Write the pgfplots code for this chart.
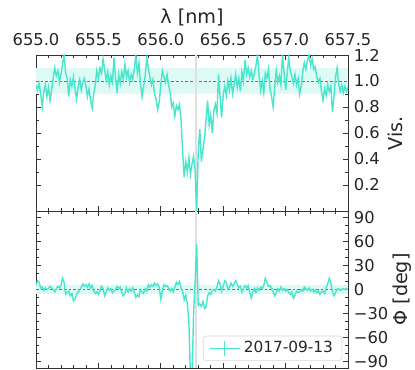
\documentclass[border=0pt]{standalone}
\usepackage{fontspec}
\setmainfont{DejaVu Sans}
\usepackage{pgfplots}
\pgfplotsset{compat=1.18}
\definecolor{turq}{RGB}{72,230,205}
\definecolor{band}{RGB}{222,250,244}
\pgfplotsset{
  common/.style={
    scale only axis, width=187.2pt,
    xmin=655, xmax=657.5,
    xtick={655,655.5,656,656.5,657,657.5},
    minor x tick num=4,
    tick align=inside, tick pos=both,
    major tick length=3pt, minor tick length=1.6pt,
    every tick/.style={black!80, line width=0.4pt},
    axis line style={black!80, line width=0.5pt},
    tick label style={font=\fontsize{9.8}{11}\selectfont, black!85},
    label style={font=\fontsize{11.5}{13}\selectfont, black!85},
    /pgf/number format/assume math mode=true,
    yticklabel pos=right,
    clip=true,
  }
}
\begin{document}
\begin{tikzpicture}
\path[use as bounding box] (0,0) rectangle (249pt,222pt);
% ---------------- top panel: visibility ----------------
\begin{axis}[common,
  at={(21.6pt,95.4pt)}, anchor=south west, height=93.6pt,
  ymin=0, ymax=1.2,
  ytick={0.2,0.4,0.6,0.8,1.0,1.2},
  minor y tick num=1,
  xticklabel pos=upper,
  xticklabel style={yshift=1.8pt, /pgf/number format/.cd, fixed, fixed zerofill, precision=1},
  yticklabel style={/pgf/number format/.cd, fixed, fixed zerofill, precision=1},
  xlabel={λ [nm]},
  xlabel style={yshift=-2pt},
  ylabel={Vis.},
  ylabel style={yshift=2pt},
]
\addplot[draw=none, fill=band, forget plot] coordinates {(655,0.9) (657.5,0.9) (657.5,1.1) (655,1.1)} -- cycle;
\addplot[black!55, dash pattern=on 1.6pt off 1.2pt, line width=0.45pt, forget plot] coordinates {(655,1) (657.5,1)};
\addplot[black!12, line width=1.3pt, forget plot] coordinates {(656.28,0) (656.28,1.2)};
\addplot[turq, line width=0.85pt] coordinates {
(655.0000,0.97) (655.0125,0.93) (655.0250,0.98) (655.0375,0.90) (655.0500,0.80)
(655.0625,0.92) (655.0750,0.97) (655.0875,0.88) (655.1000,0.95) (655.1125,0.85)
(655.1250,0.93) (655.1375,1.02) (655.1500,1.10) (655.1625,1.04) (655.1750,1.08)
(655.1875,0.99) (655.2000,1.05) (655.2125,1.13) (655.2250,1.20) (655.2375,1.06)
(655.2500,1.02) (655.2625,0.88) (655.2750,1.01) (655.2875,0.96) (655.3000,1.03)
(655.3125,0.94) (655.3250,0.86) (655.3375,0.95) (655.3500,1.01) (655.3625,0.93)
(655.3750,0.99) (655.3875,1.02) (655.4000,0.96) (655.4125,0.88) (655.4250,0.94)
(655.4375,0.85) (655.4500,0.79) (655.4625,0.90) (655.4750,0.97) (655.4875,1.08)
(655.5000,1.02) (655.5125,1.10) (655.5250,1.06) (655.5375,1.17) (655.5500,1.09)
(655.5625,1.00) (655.5750,1.07) (655.5875,0.97) (655.6000,1.04) (655.6125,0.99)
(655.6250,1.18) (655.6375,1.02) (655.6500,0.91) (655.6625,1.05) (655.6750,0.98)
(655.6875,1.07) (655.7000,1.01) (655.7125,1.13) (655.7250,1.03) (655.7375,1.08)
(655.7500,0.99) (655.7625,1.05) (655.7750,1.01) (655.7875,1.09) (655.8000,1.20)
(655.8125,1.06) (655.8250,1.14) (655.8375,0.98) (655.8500,0.88) (655.8625,0.96)
(655.8750,1.04) (655.8875,1.18) (655.9000,1.10) (655.9125,1.03) (655.9250,0.97)
(655.9375,1.01) (655.9500,0.90) (655.9625,0.86) (655.9750,0.78) (655.9875,0.84)
(656.0000,0.97) (656.0125,1.08) (656.0250,1.03) (656.0375,0.99) (656.0500,1.05)
(656.0625,0.97) (656.0750,0.91) (656.0875,0.80) (656.1000,0.83) (656.1125,0.73)
(656.1250,0.81) (656.1375,0.78) (656.1500,0.82) (656.1625,0.70) (656.1750,0.45)
(656.1875,0.26) (656.2000,0.38) (656.2125,0.30) (656.2250,0.41) (656.2375,0.28)
(656.2500,0.36) (656.2625,0.42) (656.2750,0.31) (656.2875,0.00) (656.3000,0.46)
(656.3125,0.63) (656.3250,0.38) (656.3375,0.47) (656.3500,0.56) (656.3625,0.70)
(656.3750,0.85) (656.3875,0.66) (656.4000,0.74) (656.4125,0.60) (656.4250,0.77)
(656.4375,0.82) (656.4500,0.75) (656.4625,1.05) (656.4750,0.88) (656.4875,0.72)
(656.5000,0.89) (656.5125,0.96) (656.5250,0.89) (656.5375,1.00) (656.5500,0.93)
(656.5625,1.02) (656.5750,0.90) (656.5875,0.97) (656.6000,1.05) (656.6125,0.95)
(656.6250,1.02) (656.6375,0.92) (656.6500,1.07) (656.6625,1.00) (656.6750,1.16)
(656.6875,1.05) (656.7000,1.10) (656.7125,1.03) (656.7250,1.08) (656.7375,1.01)
(656.7500,1.06) (656.7625,1.12) (656.7750,1.20) (656.7875,1.04) (656.8000,0.93)
(656.8125,1.00) (656.8250,0.91) (656.8375,1.06) (656.8500,1.02) (656.8625,1.09)
(656.8750,0.94) (656.8875,0.88) (656.9000,0.80) (656.9125,0.95) (656.9250,1.08)
(656.9375,0.99) (656.9500,1.04) (656.9625,0.97) (656.9750,1.20) (656.9875,1.07)
(657.0000,0.93) (657.0125,1.05) (657.0250,1.18) (657.0375,1.08) (657.0500,1.03)
(657.0625,0.98) (657.0750,1.05) (657.0875,0.97) (657.1000,1.02) (657.1125,0.90)
(657.1250,0.96) (657.1375,1.07) (657.1500,1.14) (657.1625,1.09) (657.1750,1.16)
(657.1875,1.20) (657.2000,1.12) (657.2125,1.17) (657.2250,1.09) (657.2375,1.11)
(657.2500,1.03) (657.2625,0.99) (657.2750,1.02) (657.2875,0.92) (657.3000,0.85)
(657.3125,0.94) (657.3250,0.89) (657.3375,0.97) (657.3500,0.92) (657.3625,0.96)
(657.3750,0.76) (657.3875,0.88) (657.4000,1.03) (657.4125,1.10) (657.4250,0.98)
(657.4375,0.92) (657.4500,0.97) (657.4625,0.91) (657.4750,0.96) (657.4875,0.92)
(657.5000,0.95)
};
\end{axis}
% ---------------- bottom panel: phase ----------------
\begin{axis}[common,
  at={(21.6pt,1.2pt)}, anchor=south west, height=94.2pt,
  ymin=-98, ymax=98,
  ytick={-90,-60,-30,0,30,60,90},
  yticklabels={−90,−60,−30,0,30,60,90},
  minor y tick num=2,
  xticklabels={},
  ylabel={Φ [deg]},
  ylabel style={yshift=4pt},
  legend style={at={(0.982,0.045)}, anchor=south east, draw=black!15,
    rounded corners=2pt, fill=white, font=\fontsize{9.2}{10}\selectfont,
    text=black!85, inner xsep=3.5pt, inner ysep=1.2pt},
  legend cell align=left,
  legend image code/.code={
    \draw[#1] (0pt,0pt) -- (18pt,0pt);
    \draw[#1] (9pt,-4.5pt) -- (9pt,4.5pt);
  },
]
\addplot[draw=none, fill=band, forget plot] coordinates {(655,-6) (657.5,-6) (657.5,6) (655,6)} -- cycle;
\addplot[black!55, dash pattern=on 1.6pt off 1.2pt, line width=0.45pt, forget plot] coordinates {(655,0) (657.5,0)};
\addplot[black!12, line width=1.3pt, forget plot] coordinates {(656.28,-98) (656.28,98)};
\addplot[turq, line width=0.85pt] coordinates {
(655.0000,5) (655.0125,11) (655.0250,9) (655.0375,2) (655.0500,3)
(655.0625,-1) (655.0750,2) (655.0875,0) (655.1000,1) (655.1125,4)
(655.1250,2) (655.1375,0) (655.1500,-3) (655.1625,1) (655.1750,4)
(655.1875,2) (655.2000,5) (655.2125,14) (655.2250,9) (655.2375,-6)
(655.2500,-4) (655.2625,-2) (655.2750,-8) (655.2875,-5) (655.3000,-14)
(655.3125,-12) (655.3250,-6) (655.3375,-3) (655.3500,-1) (655.3625,3)
(655.3750,7) (655.3875,4) (655.4000,6) (655.4125,3) (655.4250,7)
(655.4375,2) (655.4500,5) (655.4625,-2) (655.4750,-5) (655.4875,-3)
(655.5000,-6) (655.5125,-2) (655.5250,4) (655.5375,1) (655.5500,-8)
(655.5625,-3) (655.5750,2) (655.5875,-1) (655.6000,1) (655.6125,-4)
(655.6250,-2) (655.6375,0) (655.6500,4) (655.6625,1) (655.6750,3)
(655.6875,-4) (655.7000,-8) (655.7125,-5) (655.7250,2) (655.7375,-3)
(655.7500,1) (655.7625,-2) (655.7750,2) (655.7875,-3) (655.8000,-10)
(655.8125,-7) (655.8250,-9) (655.8375,0) (655.8500,-3) (655.8625,-5)
(655.8750,1) (655.8875,-2) (655.9000,6) (655.9125,3) (655.9250,6)
(655.9375,4) (655.9500,8) (655.9625,5) (655.9750,7) (655.9875,3)
(656.0000,-12) (656.0125,-2) (656.0250,6) (656.0375,4) (656.0500,5)
(656.0625,2) (656.0750,-2) (656.0875,1) (656.1000,-3) (656.1125,3)
(656.1250,9) (656.1375,6) (656.1500,10) (656.1625,2) (656.1750,-2)
(656.1875,-13) (656.2000,-7) (656.2125,-18) (656.2250,-40) (656.2375,-110)
(656.2500,-115) (656.2625,-30) (656.2750,10) (656.2875,57) (656.3000,-20)
(656.3125,-18) (656.3250,-21) (656.3375,-15) (656.3500,-24) (656.3625,-22)
(656.3750,-8) (656.3875,-4) (656.4000,-6) (656.4125,-1) (656.4250,0)
(656.4375,-2) (656.4500,3) (656.4625,11) (656.4750,7) (656.4875,-2)
(656.5000,4) (656.5125,11) (656.5250,9) (656.5375,0) (656.5500,3)
(656.5625,8) (656.5750,4) (656.5875,7) (656.6000,11) (656.6125,6)
(656.6250,2) (656.6375,4) (656.6500,-3) (656.6625,1) (656.6750,5)
(656.6875,2) (656.7000,5) (656.7125,-4) (656.7250,-11) (656.7375,-3)
(656.7500,1) (656.7625,-4) (656.7750,2) (656.7875,-1) (656.8000,3)
(656.8125,1) (656.8250,5) (656.8375,14) (656.8500,9) (656.8625,4)
(656.8750,5) (656.8875,2) (656.9000,-3) (656.9125,-8) (656.9250,-4)
(656.9375,1) (656.9500,-2) (656.9625,3) (656.9750,-1) (656.9875,1)
(657.0000,-2) (657.0125,0) (657.0250,-4) (657.0375,-6) (657.0500,-3)
(657.0625,-11) (657.0750,-7) (657.0875,-2) (657.1000,-4) (657.1125,-3)
(657.1250,0) (657.1375,-2) (657.1500,3) (657.1625,1) (657.1750,-1)
(657.1875,2) (657.2000,-2) (657.2125,0) (657.2250,-3) (657.2375,-1)
(657.2500,-4) (657.2625,-2) (657.2750,-6) (657.2875,-3) (657.3000,-2)
(657.3125,-5) (657.3250,2) (657.3375,7) (657.3500,14) (657.3625,8)
(657.3750,-3) (657.3875,-8) (657.4000,-4) (657.4125,0) (657.4250,1)
(657.4375,-1) (657.4500,0) (657.4625,1) (657.4750,0) (657.4875,1)
(657.5000,0)
};
\addlegendentry{2017-09-13}
\end{axis}
\end{tikzpicture}
\end{document}
